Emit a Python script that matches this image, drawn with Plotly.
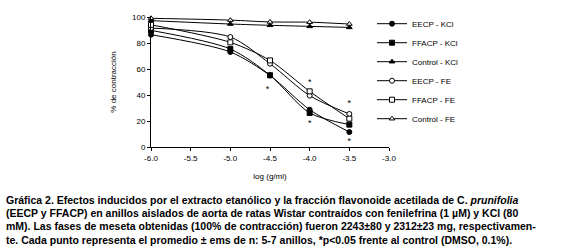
import plotly.graph_objects as go

x_vals = [-6.0, -5.0, -4.5, -4.0, -3.5]

eecp_kcl = [86.4, 73.1, 55.0, 28.7, 11.5]
ffacp_kcl = [89.7, 75.4, 55.2, 26.2, 17.2]
control_kcl = [97.2, 94.6, 93.6, 92.8, 92.0]
eecp_fe = [91.5, 84.6, 64.1, 39.5, 25.4]
ffacp_fe = [94.0, 80.5, 66.6, 42.8, 21.8]
control_fe = [99.0, 97.6, 96.2, 96.0, 94.6]

series_names = ["EECP - KCl", "FFACP - KCl", "Control - KCl", "EECP - FE", "FFACP - FE", "Control - FE"]
series_data = [eecp_kcl, ffacp_kcl, control_kcl, eecp_fe, ffacp_fe, control_fe]
series_symbols = ["circle", "square", "triangle-up", "circle", "square", "triangle-up"]
series_filled = [True, True, True, False, False, False]

star_x = [-4.53, -4.0, -4.0, -3.5, -3.5]
star_y = [44.0, 49.5, 18.0, 33.5, 4.0]

x_ticks = [-6.0, -5.5, -5.0, -4.5, -4.0, -3.5, -3.0]
y_ticks = [0, 20, 40, 60, 80, 100]

caption_lines = [
    "Gráfica 2. Efectos inducidos por el extracto etanólico y la fracción flavonoide acetilada de C. <i>prunifolia</i>",
    "(EECP y FFACP) en anillos aislados de aorta de ratas Wistar contraídos con fenilefrina (1 µM) y KCl (80",
    "mM). Las fases de meseta obtenidas (100% de contracción) fueron 2243±80 y 2312±23 mg, respectivamen-",
    "te. Cada punto representa el promedio ± ems de n: 5-7 anillos, *p<0.05 frente al control (DMSO, 0.1%).",
]

fig = go.Figure()
for name, ys, sym, filled in zip(series_names, series_data, series_symbols, series_filled):
    fig.add_trace(go.Scatter(
        x=x_vals, y=ys, name=name, mode="lines+markers",
        line=dict(color="black", width=1, shape="spline", smoothing=0.8),
        marker=dict(symbol=sym, size=5, color="black" if filled else "white",
                    line=dict(color="black", width=1)),
        cliponaxis=False,
    ))

fig.add_trace(go.Scatter(
    x=star_x, y=star_y, mode="text", text=["*"] * len(star_x),
    textfont=dict(family="Arial, Liberation Sans", size=9, color="black"),
    showlegend=False, cliponaxis=False,
))

L, R, T, B = 151, 389, 17, 147
W, H = 579, 252

fig.update_layout(
    width=W, height=H,
    margin=dict(l=L, r=W - R, t=T, b=H - B, autoexpand=False),
    paper_bgcolor="white", plot_bgcolor="white",
    font=dict(family="Arial, Liberation Sans", size=8, color="black"),
    xaxis=dict(range=[-6.0, -3.0], tickvals=x_ticks, ticktext=["%.1f" % v for v in x_ticks],
               showgrid=False, zeroline=False, showline=True, linecolor="black", linewidth=1,
               ticks="outside", ticklen=3, tickcolor="black",
               title=dict(text="log (g/ml)", standoff=11, font=dict(size=8))),
    yaxis=dict(range=[0, 100], tickvals=y_ticks, showgrid=False, zeroline=False,
               showline=True, linecolor="black", linewidth=1,
               ticks="outside", ticklen=3, tickcolor="black",
               title=dict(text="% de contracción", standoff=14, font=dict(size=8))),
    legend=dict(x=(372 - L) / (R - L), y=1.06, xanchor="left", yanchor="top",
                font=dict(size=8), bgcolor="rgba(0,0,0,0)", tracegroupgap=0, itemwidth=30),
)

for i, line in enumerate(caption_lines):
    fig.add_annotation(
        text="<b>" + line + "</b>", xref="paper", yref="paper",
        x=(4 - L) / (R - L), y=(B - (200 + i * 13.2)) / (B - T),
        xanchor="left", yanchor="middle", showarrow=False, align="left",
        font=dict(family="Liberation Sans Narrow, Arial Narrow, Arial", size=10.5, color="black"),
    )

fig.write_html("out.html", config={"displayModeBar": False},
               post_script="document.body.style.margin='0';document.body.style.overflow='hidden';")
